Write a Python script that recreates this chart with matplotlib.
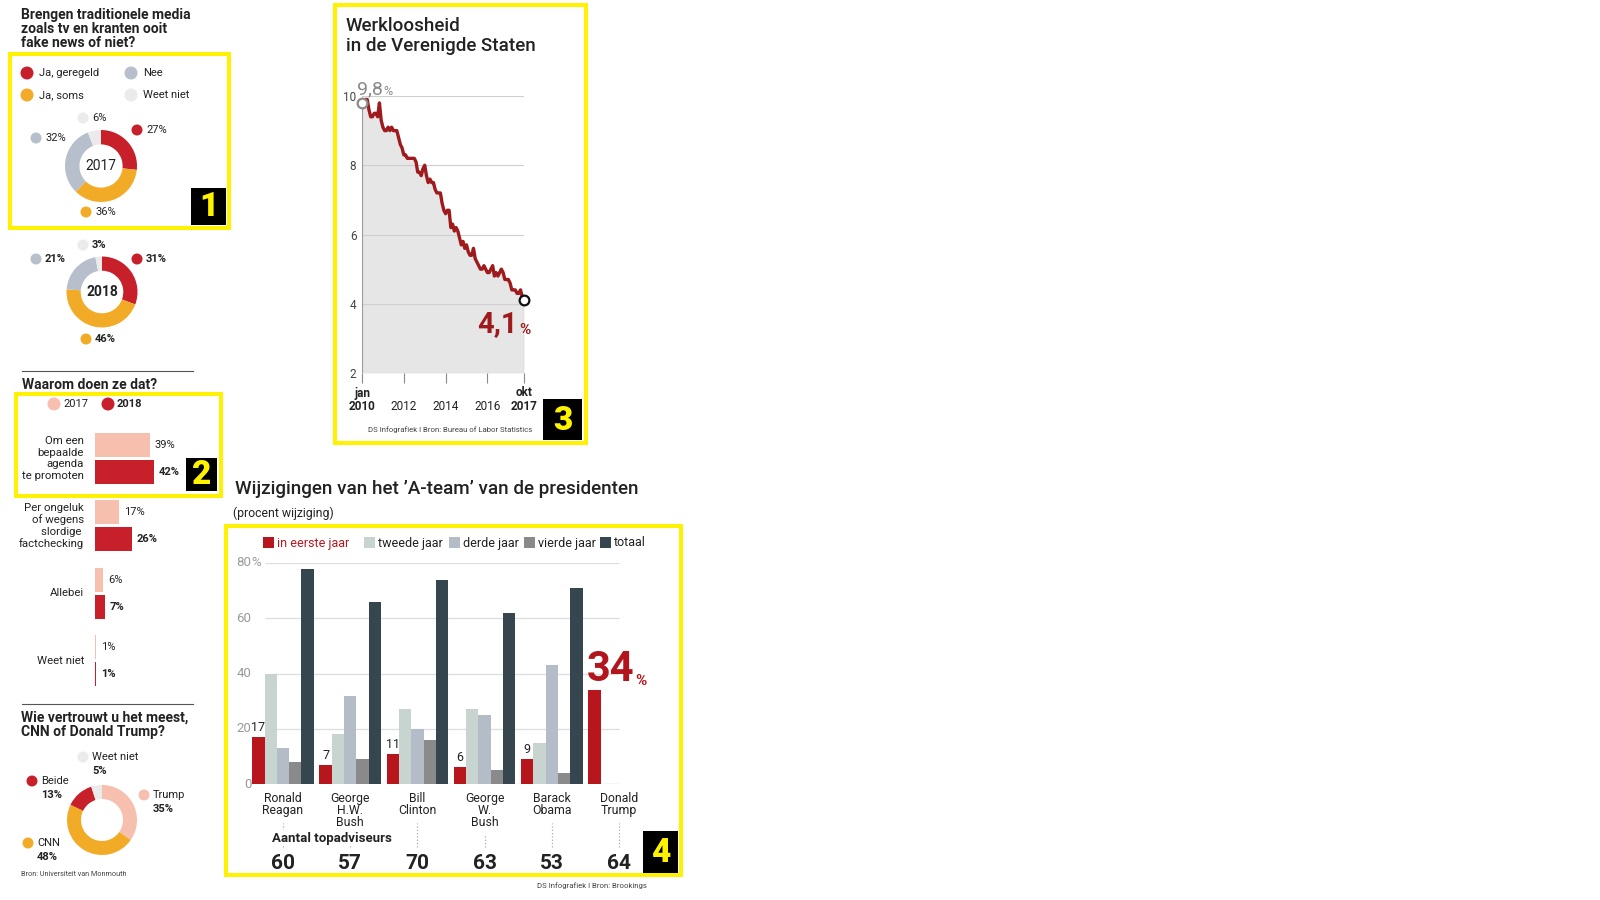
import matplotlib
matplotlib.use('Agg')
import matplotlib.pyplot as plt
from matplotlib.patches import Rectangle, Circle
import numpy as np

plt.rcParams['font.family'] = ['Roboto', 'DejaVu Sans']

# ---------------- data ----------------
media_labels = ['Ja, geregeld', 'Ja, soms', 'Nee', 'Weet niet']
media_2017 = [27, 36, 32, 6]
media_2018 = [31, 46, 21, 3]

why_labels = ['Om een\nbepaalde\nagenda\nte promoten',
              'Per ongeluk\nof wegens\nslordige \nfactchecking',
              'Allebei', 'Weet niet']
why_2017 = [39, 17, 6, 1]
why_2018 = [42, 26, 7, 1]

trust_labels = ['Trump', 'CNN', 'Beide', 'Weet niet']
trust_values = [35, 48, 13, 5]

unemp_2010 = [9.8, 9.8, 9.9, 9.9, 9.6, 9.4, 9.4, 9.5, 9.5, 9.4, 9.8, 9.3]
unemp_2011 = [9.1, 9.0, 9.0, 9.1, 9.0, 9.1, 9.0, 9.0, 9.0, 8.8, 8.6, 8.5]
unemp_2012 = [8.3, 8.3, 8.2, 8.2, 8.2, 8.2, 8.2, 8.1, 7.8, 7.8, 7.7, 7.9]
unemp_2013 = [8.0, 7.7, 7.5, 7.6, 7.5, 7.5, 7.3, 7.2, 7.2, 7.2, 6.9, 6.7]
unemp_2014 = [6.6, 6.7, 6.7, 6.2, 6.3, 6.1, 6.2, 6.1, 5.9, 5.7, 5.8, 5.6]
unemp_2015 = [5.7, 5.5, 5.4, 5.4, 5.6, 5.3, 5.2, 5.1, 5.0, 5.0, 5.1, 5.0]
unemp_2016 = [4.9, 4.9, 5.0, 5.1, 4.8, 4.9, 4.8, 4.9, 5.0, 4.9, 4.7, 4.7]
unemp_2017 = [4.7, 4.6, 4.4, 4.4, 4.4, 4.3, 4.3, 4.4, 4.2, 4.1]
unemployment = (unemp_2010 + unemp_2011 + unemp_2012 + unemp_2013 +
                unemp_2014 + unemp_2015 + unemp_2016 + unemp_2017)
unemp_ticks = [0, 24, 48, 72, 93]
unemp_tick_top = ['jan', '', '', '', 'okt']
unemp_tick_bottom = ['2010', '2012', '2014', '2016', '2017']
unemp_yticks = [2, 4, 6, 8, 10]

presidents = ['Ronald\nReagan', 'George\nH.W.\nBush', 'Bill\nClinton',
              'George\nW.\nBush', 'Barack\nObama', 'Donald\nTrump']
series_names = ['in eerste jaar', 'tweede jaar', 'derde jaar', 'vierde jaar', 'totaal']
jaar1 = [17, 7, 11, 6, 9, 34]
jaar2 = [40, 18, 27, 27, 15, np.nan]
jaar3 = [13, 32, 20, 25, 43, np.nan]
jaar4 = [8, 9, 16, 5, 4, np.nan]
totaal = [78, 66, 74, 62, 71, np.nan]
adviseurs = [60, 57, 70, 63, 53, 64]
pres_yticks = [0, 20, 40, 60, 80]

# ---------------- style ----------------
W, H = 1600, 900
RED = '#c8202a'
ORANGE = '#f2ab27'
GREYBLUE = '#b6bfcb'
LIGHT = '#ebebeb'
SALMON = '#f6bfae'
YEL = '#fff200'
LINERED = '#9e1a1c'
media_colors = [RED, ORANGE, GREYBLUE, LIGHT]
trust_colors = [SALMON, ORANGE, RED, LIGHT]
pres_colors = ['#b8161d', '#c8d4d0', '#b3bcc7', '#8a8a8a', '#36464f']

fig = plt.figure(figsize=(16, 9), dpi=100)
fig.patch.set_facecolor('white')


def px_axes(x0, y0, x1, y1, **kw):
    return fig.add_axes([x0 / W, 1 - y1 / H, (x1 - x0) / W, (y1 - y0) / H], **kw)


ov = fig.add_axes([0, 0, 1, 1], zorder=10)
ov.set_xlim(0, W)
ov.set_ylim(H, 0)
ov.axis('off')


def T(x, y, s, size=7.5, weight='normal', color='#222222', ha='left', va='center', **kw):
    return ov.text(x, y, s, fontsize=size, fontweight=weight, color=color, ha=ha, va=va, **kw)


def dot(x, y, r, color):
    ov.add_patch(Circle((x, y), r, facecolor=color, edgecolor='none'))


def yframe(x0, y0, x1, y1):
    ov.add_patch(Rectangle((x0, y0), x1 - x0, y1 - y0, fill=False, ec=YEL, lw=2.9))


def numbox(x0, y0, x1, y1, s):
    ov.add_patch(Rectangle((x0, y0), x1 - x0, y1 - y0, facecolor='black', edgecolor='none'))
    T((x0 + x1) / 2, (y0 + y1) / 2 + 1, s, 24, 'black', YEL, ha='center')


def donut(cx, cy, R, values, colors):
    ax = px_axes(cx - R, cy - R, cx + R, cy + R)
    ax.pie(values, colors=colors, startangle=90, counterclock=False,
           wedgeprops=dict(width=0.40, edgecolor='none'))
    ax.set_xlim(-1, 1)
    ax.set_ylim(-1, 1)
    ax.set_aspect('equal')
    ax.axis('off')
    return ax


# ---------------- panel 1 ----------------
T(21, 8, 'Brengen traditionele media\nzoals tv en kranten ooit\nfake news of niet?',
  10, 'bold', va='top', linespacing=0.98)
yframe(10, 54, 229, 228)
leg_pos = [(27, 73), (27, 95), (131, 73), (131, 95)]
for (x, y), lab, c in zip(leg_pos, media_labels, media_colors):
    dot(x, y, 6.5, c)
    T(x + 12, y, lab, 8)

d1 = donut(101, 166, 36, media_2017, media_colors)
T(101, 166, '2017', 10, ha='center')
pos17 = [(137, 130), (86, 212), (36, 138), (83, 118)]
for (x, y), v, c in zip(pos17, media_2017, media_colors):
    dot(x, y, 5.5, c)
    T(x + 9, y, f'{v}%', 8)
numbox(191, 188, 226, 225, '1')

d2 = donut(102, 292, 35.5, media_2018, media_colors)
T(102, 292, '2018', 10, 'bold', ha='center')
pos18 = [(137, 259), (86, 339), (36, 259), (83, 245)]
for (x, y), v, c in zip(pos18, media_2018, media_colors):
    dot(x, y, 5.5, c)
    T(x + 9, y, f'{v}%', 8, 'bold')

# ---------------- panel 2 ----------------
ov.plot([22, 193], [371, 371], color='#555555', lw=0.8)
T(22, 385, 'Waarom doen ze dat?', 10, 'bold')
yframe(16, 394, 221, 496)
dot(54, 404, 6.5, SALMON)
T(63, 404, '2017', 8)
dot(108, 404, 6.5, RED)
T(117, 404, '2018', 8, 'bold')

ax2 = px_axes(95, 425, 200, 695)
k = np.arange(len(why_labels))
ax2.barh(k - 0.2, why_2017, height=0.356, color=SALMON)
ax2.barh(k + 0.2, why_2018, height=0.356, color=RED)
ax2.set_xlim(0, 105 / 1.41)
ax2.set_ylim(3.504, -0.496)
ax2.axis('off')
for i, lab in enumerate(why_labels):
    ax2.text(-7.8, i, lab, ha='right', va='center', fontsize=8.2, color='#222222',
             linespacing=1.17, clip_on=False)
    ax2.text(why_2017[i] + 3.5, i - 0.2, f'{why_2017[i]}%', va='center', fontsize=8,
             color='#222222', clip_on=False)
    ax2.text(why_2018[i] + 3.5, i + 0.2, f'{why_2018[i]}%', va='center', fontsize=8,
             fontweight='bold', color='#222222', clip_on=False)
numbox(186, 458, 217, 491, '2')

# ---------------- trust donut ----------------
ov.plot([22, 193], [704, 704], color='#555555', lw=0.8)
T(21, 711, 'Wie vertrouwt u het meest,\nCNN of Donald Trump?', 10, 'bold', va='top',
  linespacing=0.98)
d3 = donut(102, 820, 35, trust_values, trust_colors)
trust_pos = [(144, 795), (28, 843), (32, 781), (83, 757)]
for (x, y), lab, v, c in zip(trust_pos, trust_labels, trust_values, trust_colors):
    dot(x, y, 5.5, c)
    T(x + 9, y, lab, 8)
    T(x + 9, y + 14, f'{v}%', 8, 'bold')
T(21, 875, 'Bron: Universiteit van Monmouth', 5.2, color='#444444')

# ---------------- panel 3 ----------------
yframe(335, 5, 586, 443)
T(346, 17, 'Werkloosheid\nin de Verenigde Staten', 13.5, 'medium', va='top', linespacing=1.12)
ax3 = px_axes(362, 96, 524, 373)
x = np.arange(len(unemployment))
ax3.fill_between(x, unemployment, 2, color='#e6e6e6', lw=0, zorder=1)
for v in unemp_yticks:
    ax3.axhline(v, color='#cfcfcf', lw=0.8, zorder=2)
ax3.vlines([x[0], x[-1]], 2, [unemployment[0], unemployment[-1]], color='#9a9a9a', lw=0.8,
           zorder=2)
ax3.plot(x, unemployment, color=LINERED, lw=2.4, zorder=3, clip_on=False,
         solid_joinstyle='round')
ax3.plot(x[0], unemployment[0], 'o', mfc='white', mec='#8a8a8a', ms=7, mew=1.6,
         zorder=5, clip_on=False)
ax3.plot(x[-1], unemployment[-1], 'o', mfc='white', mec='#111111', ms=7, mew=1.6,
         zorder=5, clip_on=False)
ax3.set_xlim(0, 93)
ax3.set_ylim(2, 10)
for s in ax3.spines.values():
    s.set_visible(False)
ax3.set_facecolor('none')
ax3.set_yticks(unemp_yticks)
ax3.set_yticklabels([str(v) for v in unemp_yticks])
ax3.tick_params(axis='y', length=0, pad=4, labelsize=8.5, labelcolor='#444444')
ax3.set_xticks(unemp_ticks)
ax3.set_xticklabels([''] * len(unemp_ticks))
ax3.tick_params(axis='x', length=7.5, width=0.8, color='#8a8a8a', direction='out')
for t, top, bot in zip(unemp_ticks, unemp_tick_top, unemp_tick_bottom):
    bold = 'bold' if top else 'normal'
    if top:
        ax3.annotate(top, xy=(t, 2), xytext=(0, -20), textcoords='offset pixels',
                     ha='center', va='center', fontsize=8.5, fontweight='bold', color='#222222')
    ax3.annotate(bot, xy=(t, 2), xytext=(0, -34), textcoords='offset pixels',
                 ha='center', va='center', fontsize=8.5, fontweight=bold, color='#222222')
v0 = unemployment[0]
t0 = ax3.annotate(f'{v0:.1f}'.replace('.', ','), xy=(0, v0), xytext=(-5, 9),
                  textcoords='offset pixels', ha='left', va='baseline', fontsize=14,
                  color='#8a8a8a')
ax3.annotate('%', xy=(1, 0), xycoords=t0, xytext=(1, 0), textcoords='offset pixels',
             ha='left', va='bottom', fontsize=9, color='#8a8a8a')
v1 = unemployment[-1]
t1 = ax3.annotate(f'{v1:.1f}'.replace('.', ','), xy=(93, v1), xytext=(-6, -32),
                  textcoords='offset pixels', ha='right', va='baseline', fontsize=21,
                  fontweight='bold', color=LINERED)
ax3.annotate('%', xy=(1, 0), xycoords=t1, xytext=(1, 1), textcoords='offset pixels',
             ha='left', va='bottom', fontsize=11, fontweight='bold', color=LINERED)
T(368, 430, 'DS Infografiek I Bron: Bureau of Labor Statistics', 5.6, color='#444444')
numbox(543, 399, 582, 440, '3')

# ---------------- panel 4 ----------------
T(235, 489, 'Wijzigingen van het ’A-team’ van de presidenten', 13.6, 'medium')
T(233, 513, '(procent wijziging)', 8.8)
yframe(226, 526, 681, 875)
leg_x = [263, 364, 449, 524, 600]
for xx, name, c in zip(leg_x, series_names, pres_colors):
    ov.add_patch(Rectangle((xx, 537), 11, 11, facecolor=c, edgecolor='none'))
    T(xx + 14, 543, name, 9, color=(c if name == 'in eerste jaar' else '#222222'))

ax4 = px_axes(248, 563, 622, 784)
gx = np.arange(len(presidents))
bw = 12.3 / 67.2
all_series = [jaar1, jaar2, jaar3, jaar4, totaal]
for j, (vals, c) in enumerate(zip(all_series, pres_colors)):
    ax4.bar(gx + (j - 2) * bw, vals, width=bw, color=c, zorder=3, linewidth=0)
ax4.set_xlim(-0.521, 5.045)
ax4.set_ylim(0, 80)
ax4.axis('off')
for v in pres_yticks:
    ax4.hlines(v, -0.45 if v == 0 else -0.27, 5.0, color='#bbbbbb' if v == 0 else '#dddddd',
               lw=0.9, zorder=1)
    ax4.text(-0.47, v, str(v), ha='right', va='center', fontsize=9.5, color='#9a9a9a')
    if v == max(pres_yticks):
        ax4.text(-0.47, v, '%', ha='left', va='center', fontsize=9.5, color='#9a9a9a')
for i, v in enumerate(jaar1[:-1]):
    ax4.annotate(str(v), xy=(gx[i] - 2 * bw, v), xytext=(0, 3), textcoords='offset pixels',
                 ha='center', va='bottom', fontsize=9, color='#222222')
t4 = ax4.annotate(str(jaar1[-1]), xy=(gx[-1] - 2 * bw, jaar1[-1]), xytext=(-8, 9),
                  textcoords='offset pixels', ha='left', va='baseline', fontsize=30,
                  fontweight='bold', color='#b3151c')
ax4.annotate('%', xy=(1, 0), xycoords=t4, xytext=(1, 2), textcoords='offset pixels',
             ha='left', va='bottom', fontsize=11, fontweight='bold', color='#b3151c')
for i, name in enumerate(presidents):
    nl = name.count('\n') + 1
    ax4.text(gx[i], -3, name, ha='center', va='top', fontsize=8.8, color='#222222',
             linespacing=0.88, clip_on=False)
    ax4.vlines(gx[i], -22.8, -3 - 4.17 * nl - 2.8, colors='#aaaaaa', linestyles=':',
               lw=0.9, clip_on=False)
    ax4.text(gx[i], -28.6, str(adviseurs[i]), ha='center', va='center', fontsize=15,
             fontweight='bold', color='#222222', clip_on=False)
ax4.text(-0.164, -19.6, 'Aantal topadviseurs', ha='left', va='center', fontsize=9.5,
         fontweight='bold', color='#222222', clip_on=False, zorder=5,
         bbox=dict(facecolor='white', edgecolor='none', pad=1))
numbox(643, 831, 678, 873, '4')
T(537, 886, 'DS Infografiek I Bron: Brookings', 5.6, color='#444444')

fig.savefig('out.png', dpi=100, facecolor='white')
